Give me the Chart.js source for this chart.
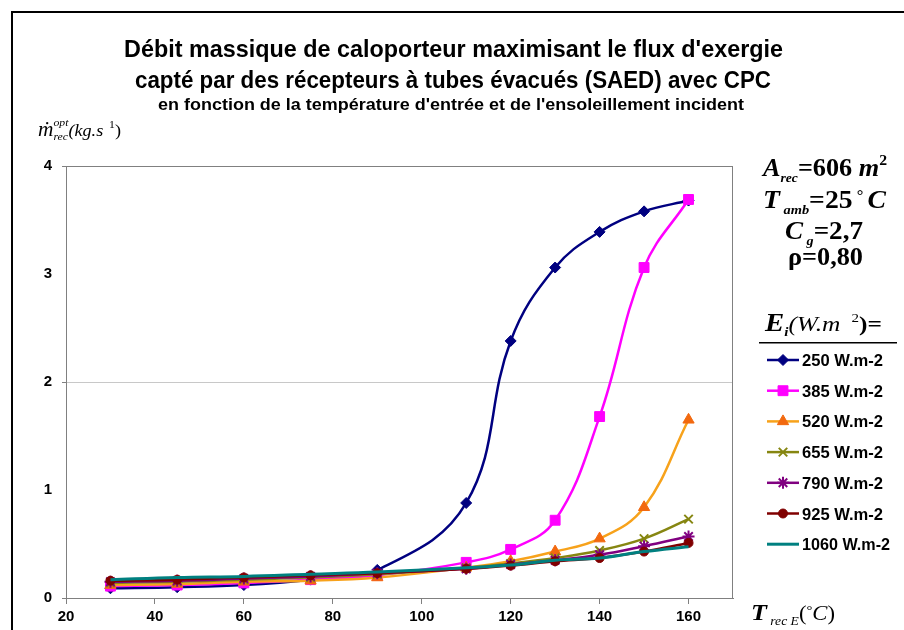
<!DOCTYPE html>
<html>
<head>
<meta charset="utf-8">
<script src="https://cdn.jsdelivr.net/npm/chart.js@4.4.1/dist/chart.umd.min.js"></script>
<style>
  html, body { margin: 0; padding: 0; background: #ffffff; }
  #wrap { width: 904px; height: 630px; position: relative; }
</style>
</head>
<body>
<div id="wrap"><canvas id="c" width="904" height="630"></canvas></div>
<script>
// Inlet temperature of the receiver (°C)
const temperatures = [30, 45, 60, 75, 90, 110, 120, 130, 140, 150, 160];

// Optimal coolant mass flow (kg/s) for each incident irradiance
const flow250  = [0.09, 0.10, 0.12, 0.17, 0.26, 0.88, 2.38, 3.06, 3.39, 3.58, 3.68];
const flow385  = [0.11, 0.12, 0.14, 0.17, 0.21, 0.33, 0.45, 0.72, 1.68, 3.06, 3.69];
const flow520  = [0.12, 0.13, 0.15, 0.16, 0.19, 0.28, 0.34, 0.43, 0.55, 0.84, 1.65];
const flow655  = [0.14, 0.15, 0.17, 0.19, 0.22, 0.28, 0.32, 0.37, 0.44, 0.55, 0.73];
const flow790  = [0.15, 0.16, 0.18, 0.20, 0.23, 0.27, 0.31, 0.35, 0.40, 0.48, 0.57];
const flow925  = [0.16, 0.17, 0.19, 0.21, 0.23, 0.27, 0.30, 0.34, 0.37, 0.43, 0.51];
const flow1060 = [0.17, 0.19, 0.20, 0.22, 0.24, 0.28, 0.305, 0.35, 0.37, 0.43, 0.475];

const seriesLabels = ['250 W.m-2', '385 W.m-2', '520 W.m-2', '655 W.m-2', '790 W.m-2', '925 W.m-2', '1060 W.m-2'];
const seriesValues = [flow250, flow385, flow520, flow655, flow790, flow925, flow1060];

const xTickValues = [20, 40, 60, 80, 100, 120, 140, 160];
const yTickValues = [0, 1, 2, 3, 4];

const titleLines = [
  "Débit massique de caloporteur maximisant le flux d'exergie",
  "capté par des récepteurs à tubes évacués (SAED) avec CPC",
  "en fonction de la température d'entrée et de l'ensoleillement incident"
];

const SANS = '"Liberation Sans", Arial, sans-serif';
const SERIF = '"Liberation Serif", "Times New Roman", "DejaVu Serif", serif';

// Line / marker styling per series
const styles = [
  { line: '#000080', fill: '#000080', point: 'rectRot',  radius: 5.5, bw: 1 },
  { line: '#FF00FF', fill: '#FF00FF', point: 'rect',     radius: 7,   bw: 1 },
  { line: '#F7A21B', fill: '#F2690F', point: 'triangle', radius: 6.5, bw: 1 },
  { line: '#868611', fill: '#868611', point: 'crossRot', radius: 6,   bw: 2 },
  { line: '#800080', fill: '#800080', point: 'star',     radius: 6,   bw: 2 },
  { line: '#800000', fill: '#800000', point: 'circle',   radius: 4.5, bw: 1 },
  { line: '#008080', fill: '#008080', point: false,      radius: 0,   bw: 0 }
];

const datasets = seriesValues.map((vals, i) => ({
  label: seriesLabels[i],
  data: temperatures.map((t, j) => ({ x: t, y: vals[j] })),
  borderColor: styles[i].line,
  backgroundColor: styles[i].fill,
  pointBackgroundColor: styles[i].fill,
  pointBorderColor: styles[i].point === 'crossRot' || styles[i].point === 'star' ? styles[i].line : styles[i].fill,
  pointStyle: styles[i].point,
  pointRadius: styles[i].radius,
  pointBorderWidth: styles[i].bw,
  borderWidth: i === 6 ? 3 : 2.5,
  tension: 0.4,
  fill: false,
  order: seriesValues.length - i
}));

// Draws a sequence of text runs (sub/superscripts) fitted to a given width
function drawRich(ctx, runs, left, baseline, targetW) {
  let end = 0, prevX = 0;
  const placed = [];
  for (const r of runs) {
    ctx.font = r.f;
    const w = ctx.measureText(r.t).width;
    const sx = r.stack ? prevX : end;
    placed.push({ r, x: sx });
    prevX = sx;
    end = Math.max(end, sx + w);
  }
  const k = targetW ? targetW / end : 1;
  ctx.save();
  ctx.translate(left, baseline);
  ctx.scale(k, 1);
  ctx.fillStyle = '#000';
  ctx.textAlign = 'left';
  ctx.textBaseline = 'alphabetic';
  for (const p of placed) {
    ctx.font = p.r.f;
    ctx.fillText(p.r.t, p.x, p.r.dy || 0);
  }
  ctx.restore();
}

const decorations = {
  id: 'decorations',
  beforeDatasetsDraw(chart) {
    const { ctx, chartArea: a } = chart;
    ctx.save();
    ctx.strokeStyle = '#808080';
    ctx.lineWidth = 1;
    ctx.strokeRect(a.left + 0.5, a.top + 0.5, a.right - a.left - 1, a.bottom - a.top);
    ctx.restore();
  },
  afterDraw(chart) {
    const ctx = chart.ctx;
    ctx.save();
    // outer frame
    ctx.fillStyle = '#000';
    ctx.fillRect(11, 11, 904, 2);
    ctx.fillRect(11, 11, 2, 630);

    // titles
    drawRich(ctx, [{ t: titleLines[0], f: `bold 24px ${SANS}` }], 124, 57, 659);
    drawRich(ctx, [{ t: titleLines[1], f: `bold 24px ${SANS}` }], 135, 88, 636);
    drawRich(ctx, [{ t: titleLines[2], f: `bold 17px ${SANS}` }], 158, 110, 586);

    // y axis title
    drawRich(ctx, [
      { t: 'ṁ', f: `italic 20px ${SERIF}` },
      { t: 'opt', f: `italic 11px ${SERIF}`, dy: -10 },
      { t: 'rec', f: `italic 11px ${SERIF}`, dy: 4, stack: true },
      { t: '(kg.s', f: `italic 17px ${SERIF}` },
      { t: '  1', f: `11px ${SERIF}`, dy: -8 },
      { t: ')', f: `17px ${SERIF}` }
    ], 38, 136, 83);

    // x axis title
    drawRich(ctx, [
      { t: 'T', f: `bold italic 23px ${SERIF}` },
      { t: ' rec E', f: `italic 12px ${SERIF}`, dy: 5 },
      { t: '(', f: `20px ${SERIF}` },
      { t: '°', f: `13px ${SERIF}`, dy: -6 },
      { t: 'C', f: `italic 20px ${SERIF}` },
      { t: ')', f: `20px ${SERIF}` }
    ], 751, 620, 84);

    // parameters
    const B = `bold 25px ${SERIF}`, BI = `bold italic 25px ${SERIF}`, SUB = `bold italic 13px ${SERIF}`;
    drawRich(ctx, [
      { t: 'A', f: BI }, { t: 'rec', f: SUB, dy: 6 }, { t: '=606 ', f: B },
      { t: 'm', f: BI }, { t: '2', f: `bold 15px ${SERIF}`, dy: -11 }
    ], 763, 176, 124);
    drawRich(ctx, [
      { t: 'T', f: BI }, { t: ' amb', f: SUB, dy: 6 }, { t: '=25', f: B },
      { t: ' ° ', f: `bold 15px ${SERIF}`, dy: -8 }, { t: 'C', f: BI }
    ], 763, 208, 123);
    drawRich(ctx, [
      { t: 'C', f: BI }, { t: ' g', f: SUB, dy: 6 }, { t: '=2,7', f: B }
    ], 785, 239, 78);
    drawRich(ctx, [
      { t: 'ρ', f: B }, { t: '=0,80', f: B }
    ], 788, 265, 75);
    drawRich(ctx, [
      { t: 'E', f: BI }, { t: 'i', f: SUB, dy: 5 }, { t: '(W.m', f: `italic 22px ${SERIF}` },
      { t: '   2', f: `13px ${SERIF}`, dy: -9 }, { t: ')=', f: `bold 22px ${SERIF}` }
    ], 765, 331, 117);

    // legend header rule
    ctx.fillStyle = '#000';
    ctx.fillRect(759, 342, 138, 1.5);

    // legend entries
    const drawPoint = Chart.helpers && Chart.helpers.drawPoint;
    chart.data.datasets.forEach((ds, i) => {
      const y = 360 + i * 30.7;
      ctx.save();
      ctx.strokeStyle = ds.borderColor;
      ctx.lineWidth = ds.borderWidth;
      ctx.beginPath();
      ctx.moveTo(767, y);
      ctx.lineTo(799, y);
      ctx.stroke();
      if (ds.pointStyle && drawPoint) {
        ctx.fillStyle = ds.pointBackgroundColor;
        ctx.strokeStyle = ds.pointBorderColor;
        ctx.lineWidth = ds.pointBorderWidth;
        drawPoint(ctx, { pointStyle: ds.pointStyle, radius: ds.pointRadius, borderWidth: ds.pointBorderWidth, rotation: 0 }, 783, y);
      }
      ctx.restore();
      drawRich(ctx, [{ t: ds.label, f: `bold 17px ${SANS}` }], 802, y + 6, ds.label.length > 9 ? 88 : 81);
    });
    ctx.restore();
  }
};

new Chart(document.getElementById('c'), {
  type: 'line',
  data: { datasets },
  plugins: [decorations],
  options: {
    responsive: false,
    animation: false,
    events: [],
    layout: { padding: { left: 0, top: 166, right: 171, bottom: 0 } },
    plugins: { legend: { display: false }, tooltip: { enabled: false }, title: { display: false } },
    scales: {
      x: {
        type: 'linear',
        min: 20,
        max: 170,
        afterBuildTicks: s => { s.ticks = xTickValues.map(v => ({ value: v })); },
        afterFit: s => { s.height = 32; },
        grid: { drawOnChartArea: false, drawTicks: true, tickLength: 6, tickColor: '#808080', color: '#808080' },
        border: { display: true, color: '#808080', width: 1 },
        ticks: { color: '#000', font: { family: SANS, size: 15, weight: 'bold' }, padding: 4, maxRotation: 0 }
      },
      y: {
        type: 'linear',
        min: 0,
        max: 4,
        afterBuildTicks: s => { s.ticks = yTickValues.map(v => ({ value: v })); },
        afterFit: s => { s.width = 66; },
        grid: {
          drawOnChartArea: true,
          tickLength: 4,
          color: c => (c.tick && c.tick.value === 2) ? '#c8c8c8' : 'rgba(0,0,0,0)',
          tickColor: c => (c.tick && c.tick.value % 2 === 0) ? '#808080' : 'rgba(0,0,0,0)'
        },
        border: { display: true, color: '#808080', width: 1 },
        ticks: { color: '#000', font: { family: SANS, size: 15, weight: 'bold' }, padding: 10 }
      }
    }
  }
});
</script>
</body>
</html>
